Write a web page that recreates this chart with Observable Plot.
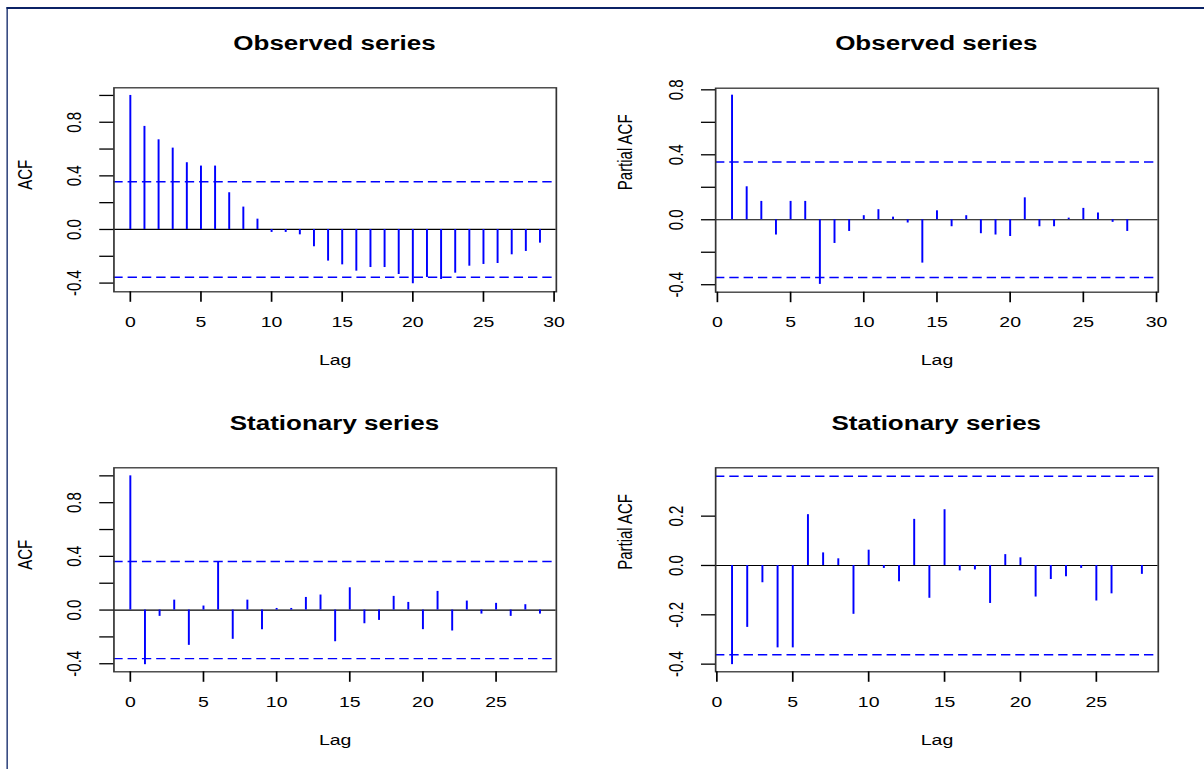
<!DOCTYPE html>
<html><head><meta charset="utf-8">
<script src="https://cdn.jsdelivr.net/npm/d3@7"></script>
<script src="https://cdn.jsdelivr.net/npm/@observablehq/plot@0.6"></script>
<style>
html,body{margin:0;padding:0;background:#fff;overflow:hidden}
#stage{position:relative;width:926.15px;height:769px;transform:scaleX(1.3);transform-origin:0 0;font-family:"Liberation Sans",Arial,sans-serif}
.panel{position:absolute}
.title{position:absolute;width:400px;text-align:center;font-weight:bold;font-size:20px;line-height:24px;color:#000}
#border{position:absolute;left:4.6px;top:7px;right:-10px;bottom:-10px;border-left:1.9px solid #0b2265;border-top:2.5px solid #0b2265}
</style></head><body><div id="stage"><div id="border"></div></div>
<script>
// ---- data ----
const titles = ["Observed series", "Observed series", "Stationary series", "Stationary series"];
const yAxisLabels = ["ACF", "Partial ACF", "ACF", "Partial ACF"];
const xLabel = "Lag";

const acfObsLags = [0,1,2,3,4,5,6,7,8,9,10,11,12,13,14,15,16,17,18,19,20,21,22,23,24,25,26,27,28,29];
const acfObs = [1.0,0.769,0.669,0.607,0.498,0.473,0.473,0.274,0.167,0.077,-0.022,-0.022,-0.040,-0.129,-0.236,-0.264,-0.311,-0.284,-0.284,-0.336,-0.405,-0.358,-0.373,-0.326,-0.274,-0.261,-0.254,-0.189,-0.164,-0.102];

const pacfObsLags = [1,2,3,4,5,6,7,8,9,10,11,12,13,14,15,16,17,18,19,20,21,22,23,24,25,26,27,28];
const pacfObs = [0.767,0.203,0.113,-0.094,0.113,0.113,-0.398,-0.146,-0.072,0.025,0.062,0.016,-0.020,-0.267,0.055,-0.043,0.025,-0.086,-0.094,-0.103,0.135,-0.043,-0.043,0.010,0.070,0.041,-0.016,-0.072];

const acfStatLags = [0,1,2,3,4,5,6,7,8,9,10,11,12,13,14,15,16,17,18,19,20,21,22,23,24,25,26,27,28];
const acfStat = [1.0,-0.407,-0.047,0.074,-0.263,0.030,0.360,-0.218,0.074,-0.146,0.012,0.012,0.094,0.112,-0.236,0.166,-0.102,-0.077,0.102,0.057,-0.146,0.139,-0.156,0.067,-0.030,0.050,-0.047,0.040,-0.030];

const pacfStatLags = [1,2,3,4,5,6,7,8,9,10,11,12,13,14,15,16,17,18,19,20,21,22,23,24,25,26,27,28];
const pacfStat = [-0.402,-0.251,-0.070,-0.334,-0.334,0.206,0.051,0.027,-0.198,0.062,-0.012,-0.066,0.187,-0.133,0.226,-0.022,-0.018,-0.154,0.044,0.031,-0.128,-0.057,-0.046,-0.012,-0.144,-0.115,0.000,-0.036];

const ciObs = 0.356;
const ciStat = 0.362;

const xTicks30 = [0,5,10,15,20,25,30];
const xTicks25 = [0,5,10,15,20,25];
const yTicksA = [-0.4,-0.2,0,0.2,0.4,0.6,0.8,1.0];
const yTicksB = [-0.4,-0.2,0,0.2,0.4,0.6,0.8];
const yTicksC = [-0.4,-0.2,0,0.2];
const yLabelsA = [-0.4,0,0.4,0.8];
const yLabelsC = [-0.4,-0.2,0,0.2];

// ---- drawing ----
const FONT = '"Liberation Sans", Arial, sans-serif';
const stage = document.getElementById("stage");

function panel(cfg) {
  const data = cfg.lags.map((lag, i) => ({lag, value: cfg.values[i]}));
  const fmt = d => cfg.yLabels.includes(d) ? d.toFixed(1) : "";
  return Plot.plot({
    width: cfg.width, height: cfg.height,
    marginLeft: cfg.ml, marginRight: cfg.mr, marginTop: cfg.mt, marginBottom: cfg.mb,
    x: {domain: cfg.xDomain}, y: {domain: cfg.yDomain},
    style: {fontFamily: FONT, fontSize: "15px", color: "#000", background: "transparent", overflow: "visible"},
    marks: [
      Plot.ruleY([cfg.ci, -cfg.ci], {stroke: "#0000ff", strokeWidth: 1.4, strokeDasharray: "7.2,3.8"}),
      Plot.ruleY([0], {stroke: "#000", strokeWidth: 1.2}),
      Plot.ruleX(data, {x: "lag", y1: 0, y2: "value", stroke: "#0000ff", strokeWidth: 1.5}),
      Plot.frame({stroke: "#333", strokeWidth: 1.3}),
      Plot.axisX(cfg.xTicks, {tickSize: 10.5, tickPadding: 13.6, tickFormat: d => String(d), label: null, strokeWidth: 1.3}),
      Plot.axisY(cfg.yTicks, {tickSize: 10.8, tickPadding: 14.5, tickRotate: -90, tickFormat: fmt, label: null, strokeWidth: 1.3}),
      Plot.text([cfg.ylabel], {frameAnchor: "left", dx: cfg.ylabDx, rotate: -90, text: d => d, fontSize: 15}),
      Plot.text([xLabel], {frameAnchor: "bottom", dy: 73, text: d => d, fontSize: 15})
    ]
  });
}

const cfgs = [
  {left: 0, top: 60, width: 463, height: 330, ml: 87.15, mr: 35.54, mt: 27.3, mb: 98.7,
   lags: acfObsLags, values: acfObs, ci: ciObs, xDomain: [-1.16, 30.16], yDomain: [-0.465, 1.057],
   xTicks: xTicks30, yTicks: yTicksA, yLabels: yLabelsA, ylabel: yAxisLabels[0], ylabDx: -67.9, title: titles[0], titleTop: 31},
  {left: 463, top: 60, width: 463.15, height: 330, ml: 87, mr: 35.65, mt: 27.7, mb: 98.3,
   lags: pacfObsLags, values: pacfObs, ci: ciObs, xDomain: [-0.12, 30.12], yDomain: [-0.446, 0.81],
   xTicks: xTicks30, yTicks: yTicksB, yLabels: yLabelsA, ylabel: yAxisLabels[1], ylabDx: -69.2, title: titles[1], titleTop: 31},
  {left: 0, top: 440, width: 463, height: 329, ml: 87.15, mr: 35.54, mt: 27.3, mb: 97.7,
   lags: acfStatLags, values: acfStat, ci: ciStat, xDomain: [-1.12, 29.12], yDomain: [-0.46, 1.06],
   xTicks: xTicks25, yTicks: yTicksA, yLabels: yLabelsA, ylabel: yAxisLabels[2], ylabDx: -67.9, title: titles[2], titleTop: 411},
  {left: 463, top: 440, width: 463.15, height: 329, ml: 87, mr: 35.65, mt: 27.3, mb: 97.7,
   lags: pacfStatLags, values: pacfStat, ci: ciStat, xDomain: [-0.08, 29.08], yDomain: [-0.431, 0.396],
   xTicks: xTicks25, yTicks: yTicksC, yLabels: yLabelsC, ylabel: yAxisLabels[3], ylabDx: -69, title: titles[3], titleTop: 411}
];

for (const cfg of cfgs) {
  const div = document.createElement("div");
  div.className = "panel";
  div.style.left = cfg.left + "px";
  div.style.top = cfg.top + "px";
  div.appendChild(panel(cfg));
  stage.appendChild(div);
  const t = document.createElement("div");
  t.className = "title";
  const cx = cfg.left + cfg.ml + (cfg.width - cfg.ml - cfg.mr) / 2;
  t.style.left = (cx - 200) + "px";
  t.style.top = cfg.titleTop + "px";
  t.textContent = cfg.title;
  stage.appendChild(t);
}
</script></body></html>
